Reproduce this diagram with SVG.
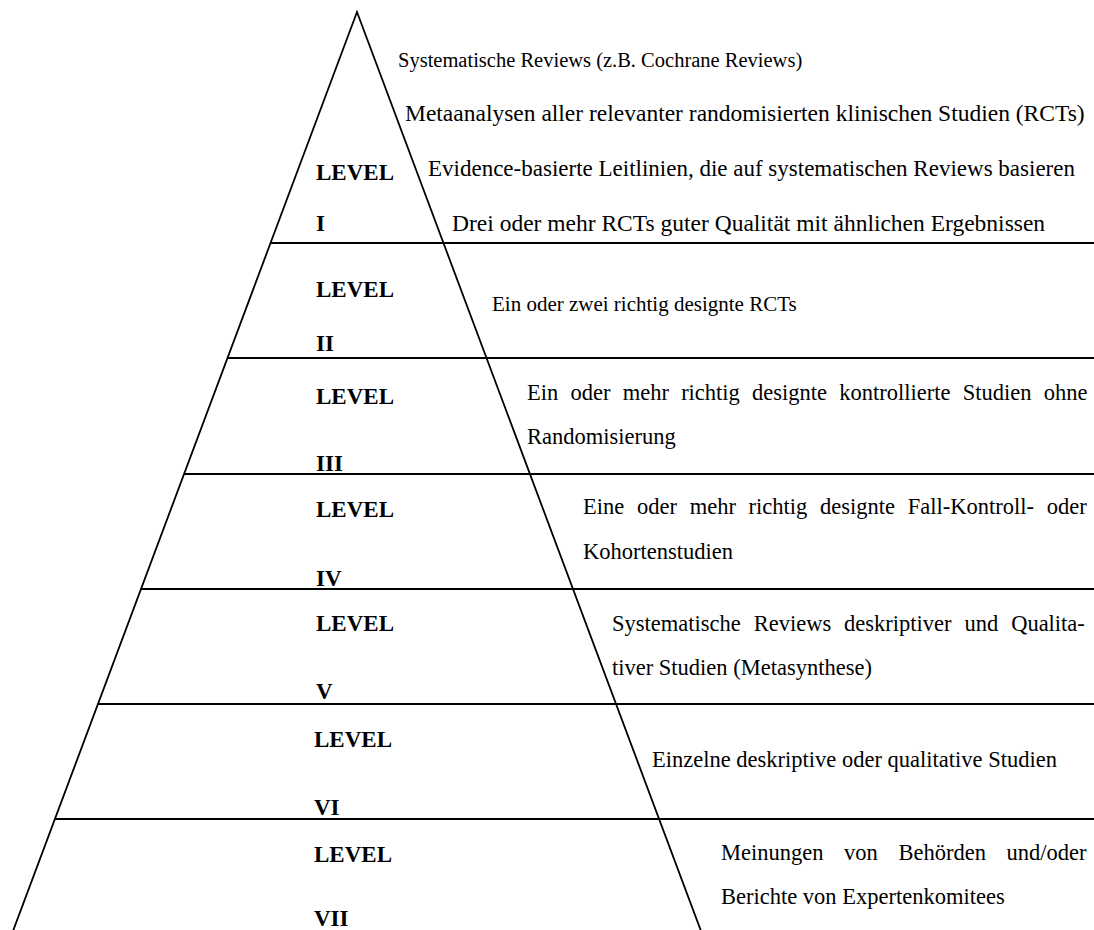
<svg xmlns="http://www.w3.org/2000/svg" width="1094" height="930" viewBox="0 0 1094 930">
  <style>
    .edge { stroke: #000; stroke-width: 1.8; fill: none; }
    .lvl { font-family: "Liberation Serif", "Times New Roman", serif; font-weight: bold; font-size: 23px; fill: #000; }
    .txt { font-family: "Liberation Serif", "Times New Roman", serif; font-size: 22.5px; fill: #000; }
  </style>
  <rect width="1094" height="930" fill="#fff"/>

  <!-- pyramid outline and level dividers -->
  <g id="connectors">
    <polyline class="edge" points="13,931 357,12 701,931"/>
    <line class="edge" x1="270.4" y1="243" x2="1094" y2="243"/>
    <line class="edge" x1="227.4" y1="358" x2="1094" y2="358"/>
    <line class="edge" x1="183.9" y1="474" x2="1094" y2="474"/>
    <line class="edge" x1="140.8" y1="589" x2="1094" y2="589"/>
    <line class="edge" x1="97.7" y1="704" x2="1094" y2="704"/>
    <line class="edge" x1="54.6" y1="819" x2="1094" y2="819"/>
  </g>

  <g id="level-1">
    <text class="lvl" x="316" y="180">LEVEL</text>
    <text class="lvl" x="316" y="231">I</text>
    <text class="txt" x="398" y="67" style="font-size:20.5px">Systematische Reviews (z.B. Cochrane Reviews)</text>
    <text class="txt" x="405" y="121" style="font-size:23.5px">Metaanalysen aller relevanter randomisierten klinischen Studien (RCTs)</text>
    <text class="txt" x="428" y="176" style="font-size:23px">Evidence-basierte Leitlinien, die auf systematischen Reviews basieren</text>
    <text class="txt" x="452" y="231" style="font-size:23.5px">Drei oder mehr RCTs guter Qualität mit ähnlichen Ergebnissen</text>
  </g>

  <g id="level-2">
    <text class="lvl" x="316" y="297">LEVEL</text>
    <text class="lvl" x="316" y="351">II</text>
    <text class="txt" x="492" y="311" style="font-size:21px">Ein oder zwei richtig designte RCTs</text>
  </g>

  <g id="level-3">
    <text class="lvl" x="316" y="404">LEVEL</text>
    <text class="lvl" x="316" y="471">III</text>
    <text class="txt" x="527" y="400" word-spacing="6.6">Ein oder mehr richtig designte kontrollierte Studien ohne</text>
    <text class="txt" x="527" y="444">Randomisierung</text>
  </g>

  <g id="level-4">
    <text class="lvl" x="316" y="517">LEVEL</text>
    <text class="lvl" x="316" y="586">IV</text>
    <text class="txt" x="583" y="514" word-spacing="7.1">Eine oder mehr richtig designte Fall-Kontroll- oder</text>
    <text class="txt" x="583" y="559">Kohortenstudien</text>
  </g>

  <g id="level-5">
    <text class="lvl" x="316" y="631">LEVEL</text>
    <text class="lvl" x="316" y="699">V</text>
    <text class="txt" x="612" y="631" word-spacing="7.3">Systematische Reviews deskriptiver und Qualita-</text>
    <text class="txt" x="612" y="675">tiver Studien (Metasynthese)</text>
  </g>

  <g id="level-6">
    <text class="lvl" x="314" y="747">LEVEL</text>
    <text class="lvl" x="314" y="815">VI</text>
    <text class="txt" x="652" y="767">Einzelne deskriptive oder qualitative Studien</text>
  </g>

  <g id="level-7">
    <text class="lvl" x="314" y="862">LEVEL</text>
    <text class="lvl" x="314" y="926">VII</text>
    <text class="txt" x="721" y="860" word-spacing="15">Meinungen von Behörden und/oder</text>
    <text class="txt" x="721" y="904">Berichte von Expertenkomitees</text>
  </g>
</svg>
